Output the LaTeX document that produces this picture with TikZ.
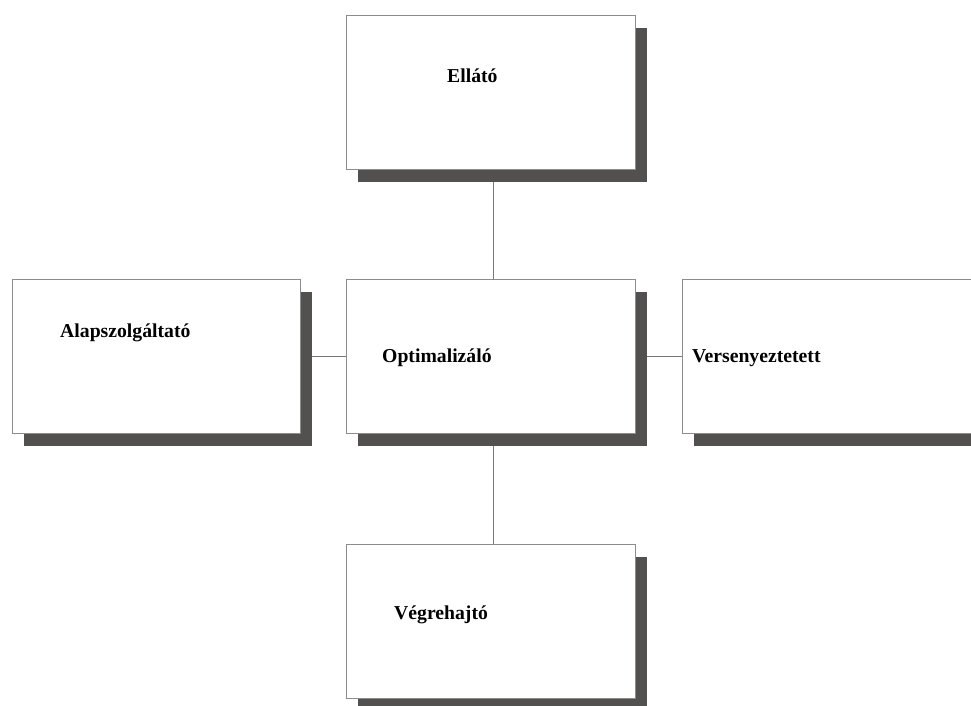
\documentclass[tikz,border=0pt]{standalone}
\usepackage{fontspec}
\setmainfont{Liberation Serif}
\usetikzlibrary{shadows,backgrounds}
\definecolor{shadowgray}{RGB}{83,81,80}
\definecolor{edgegray}{RGB}{140,140,140}
\definecolor{linkgray}{RGB}{120,120,120}
\tikzset{
  unitbox/.style={draw=edgegray, line width=0.8pt, fill=white, rectangle,
    minimum width=289pt, minimum height=154pt, inner sep=0pt,
    drop shadow={shadow xshift=12pt, shadow yshift=-12.5pt,
      fill=shadowgray, opacity=1}},
  boxlabel/.style={anchor=base west, inner sep=0pt,
    font=\fontsize{19.7}{24}\selectfont\bfseries},
  link/.style={draw=linkgray, line width=0.8pt}
}
\begin{document}
\begin{tikzpicture}[x=1pt, y=-1pt]
  \useasboundingbox (0,0) rectangle (971,705);

  % boxes with drop shadows
  \node[unitbox] (ellato)  at (490.5, 92)    {};
  \node[unitbox, minimum width=288pt] (alap) at (156, 356.5) {};
  \node[unitbox] (optim)   at (490.5, 356.5) {};
  \node[unitbox] (verseny) at (826.5, 356.5) {};
  \node[unitbox] (vegre)   at (490.5, 621)   {};

  % labels
  \node[boxlabel] (tEllato)  at (447, 82)  {Ellátó};
  \node[boxlabel] (tAlap)    at (60, 337)  {Alapszolgáltató};
  \node[boxlabel] (tOptim)   at (382, 362) {Optimalizáló};
  \node[boxlabel] (tVerseny) at (692, 362) {Versenyeztetett};
  \node[boxlabel] (tVegre)   at (394, 619) {Végrehajtó};

  % connectors, kept behind the boxes and their shadows
  \begin{scope}[on background layer]
    \draw[link] ([xshift=2.5pt]ellato.south) -- ([xshift=2.5pt]optim.north);
    \draw[link] ([xshift=2.5pt]optim.south) -- ([xshift=2.5pt]vegre.north);
    \draw[link] (alap.east) -- (optim.west);
    \draw[link] (optim.east) -- (verseny.west);
  \end{scope}
\end{tikzpicture}
\end{document}
